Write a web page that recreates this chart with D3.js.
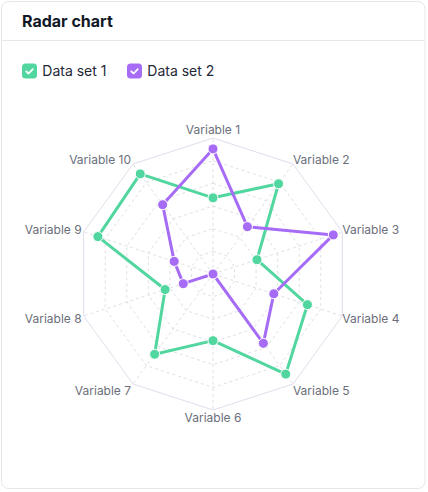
<!DOCTYPE html>
<html>
<head>
<meta charset="utf-8">
<script src="https://cdn.jsdelivr.net/npm/d3@7"></script>
<style>
  html, body { margin: 0; padding: 0; background: #ffffff; }
  svg { display: block; font-family: Inter, "Noto Sans", sans-serif; }
</style>
</head>
<body>
<svg id="chart" width="428" height="492"></svg>
<script>
const categories = ["Variable 1", "Variable 2", "Variable 3", "Variable 4", "Variable 5",
                    "Variable 6", "Variable 7", "Variable 8", "Variable 9", "Variable 10"];
const seriesNames = ["Data set 1", "Data set 2"];
const dataSet1 = [56, 82, 34, 73, 91, 49, 73, 37, 89, 91];
const dataSet2 = [92, 43, 93, 47, 63, 0, 0, 23, 30, 63];
const gridLevels = [1, 2, 3, 4, 5, 6];
const maxValue = 100;

const colors = ["#52d6a0", "#a66cf6"];
const series = [dataSet1, dataSet2];

const svg = d3.select("#chart");

// card
svg.append("rect").attr("x", 1.5).attr("y", 1.5).attr("width", 423.5).attr("height", 487)
  .attr("rx", 7).attr("fill", "#fff").attr("stroke", "#e6e7eb");
svg.append("line").attr("x1", 2).attr("x2", 424.5).attr("y1", 40.5).attr("y2", 40.5)
  .attr("stroke", "#e6e7eb");
svg.append("text").attr("x", 22).attr("y", 27.3).text("Radar chart")
  .attr("font-size", 16).attr("font-weight", 700).attr("fill", "#111827");

// legend
const legendX = [22, 127];
seriesNames.forEach((name, i) => {
  const g = svg.append("g").attr("transform", `translate(${legendX[i]},63.5)`);
  g.append("rect").attr("width", 15).attr("height", 15).attr("rx", 3.5).attr("fill", colors[i]);
  g.append("path").attr("d", "M4.3,7.8 L6.6,10 L10.8,5.6").attr("fill", "none")
    .attr("stroke", "#fff").attr("stroke-width", 1.8).attr("stroke-linecap", "round").attr("stroke-linejoin", "round");
  g.append("text").attr("x", 20.3).attr("y", 12.6).text(name)
    .attr("font-size", 14).attr("fill", "#1f2937");
});

// radar
const cx = 213, cy = 274, R = 136;
const r = d3.scaleLinear().domain([0, maxValue]).range([0, R]);
const angle = d3.scalePoint().domain(categories).range([0, 2 * Math.PI * (1 - 1 / categories.length)]);
const pt = (cat, v) => [cx + r(v) * Math.sin(angle(cat)), cy - r(v) * Math.cos(angle(cat))];

const grid = svg.append("g");
gridLevels.forEach(l => {
  const v = maxValue * l / gridLevels.length;
  const pts = categories.map(c => pt(c, v));
  grid.append("path").attr("d", d3.line()(pts) + "Z").attr("fill", "none")
    .attr("stroke", l === gridLevels.length ? "#e0deec" : "#dfe0e4")
    .attr("stroke-width", 1)
    .attr("stroke-dasharray", l === gridLevels.length ? null : "3,3");
});
categories.forEach(c => {
  const [x, y] = pt(c, maxValue);
  grid.append("line").attr("x1", cx).attr("y1", cy).attr("x2", x).attr("y2", y)
    .attr("stroke", "#dfe0e4").attr("stroke-dasharray", "3,3");
});

// labels
categories.forEach(c => {
  const a = angle(c);
  const s = Math.sin(a), co = Math.cos(a);
  const [vx, vy] = pt(c, maxValue);
  const anchor = Math.abs(s) < 0.05 ? "middle" : (s > 0 ? "start" : "end");
  const lx = vx + (Math.abs(s) < 0.05 ? 0 : (s > 0 ? 0 : -2));
  const ly = vy - 8 * co + ((co > 0.5 && co < 0.95) ? 2.5 : 0);
  svg.append("text").attr("x", lx).attr("y", ly).attr("dy", "0.36em")
    .attr("text-anchor", anchor).attr("font-size", 12).attr("fill", "#6b6f7b").text(c);
});

// series
series.forEach((vals, i) => {
  const pts = categories.map((c, j) => pt(c, vals[j]));
  svg.append("path").attr("d", d3.line()(pts) + "Z").attr("fill", "none")
    .attr("stroke", colors[i]).attr("stroke-width", 3).attr("stroke-linejoin", "round");
  svg.append("g").selectAll("circle").data(pts).join("circle")
    .attr("cx", d => d[0]).attr("cy", d => d[1]).attr("r", 5)
    .attr("fill", colors[i]).attr("stroke", "#fff").attr("stroke-width", 1);
});
</script>
</body>
</html>
